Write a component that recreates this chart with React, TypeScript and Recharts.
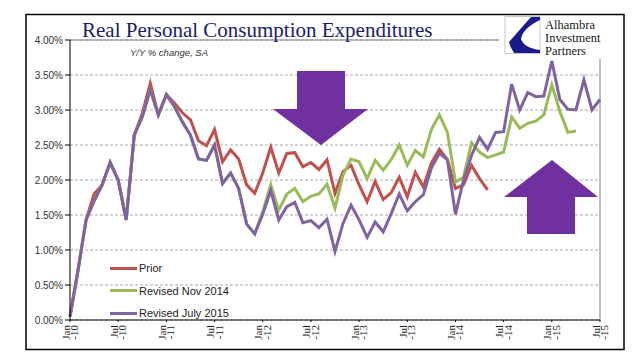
import React from 'react';
import { LineChart, Line, XAxis, YAxis, CartesianGrid, Legend, ReferenceLine } from 'recharts';

const months = [
  'Jan-10', 'Feb-10', 'Mar-10', 'Apr-10', 'May-10', 'Jun-10', 'Jul-10', 'Aug-10', 'Sep-10', 'Oct-10', 'Nov-10', 'Dec-10',
  'Jan-11', 'Feb-11', 'Mar-11', 'Apr-11', 'May-11', 'Jun-11', 'Jul-11', 'Aug-11', 'Sep-11', 'Oct-11', 'Nov-11', 'Dec-11',
  'Jan-12', 'Feb-12', 'Mar-12', 'Apr-12', 'May-12', 'Jun-12', 'Jul-12', 'Aug-12', 'Sep-12', 'Oct-12', 'Nov-12', 'Dec-12',
  'Jan-13', 'Feb-13', 'Mar-13', 'Apr-13', 'May-13', 'Jun-13', 'Jul-13', 'Aug-13', 'Sep-13', 'Oct-13', 'Nov-13', 'Dec-13',
  'Jan-14', 'Feb-14', 'Mar-14', 'Apr-14', 'May-14', 'Jun-14', 'Jul-14', 'Aug-14', 'Sep-14', 'Oct-14', 'Nov-14', 'Dec-14',
  'Jan-15', 'Feb-15', 'Mar-15', 'Apr-15', 'May-15', 'Jun-15', 'Jul-15',
];

const prior = [
  0.05, 0.71, 1.43, 1.8, 1.93, 2.25, 2.0, 1.43, 2.64, 2.95, 3.38, 2.93,
  3.22, 3.1, 2.96, 2.86, 2.56, 2.49, 2.72, 2.26, 2.43, 2.3, 1.93, 1.81,
  2.1, 2.47, 2.1, 2.38, 2.39, 2.19, 2.25, 2.15, 2.29, 1.81, 2.12, 2.21,
  1.93, 1.69, 1.98, 1.72, 1.82, 2.04, 1.76, 2.11, 1.9, 2.24, 2.44, 2.29,
  1.88, 1.93, 2.21, 2.02, 1.86,
];

const revisedNov2014 = [
  0.05, 0.71, 1.43, 1.7, 1.93, 2.25, 2.0, 1.43, 2.64, 2.9, 3.29, 2.93,
  3.22, 3.05, 2.83, 2.64, 2.3, 2.28, 2.5, 1.95, 2.1, 1.88, 1.37, 1.23,
  1.55, 1.93, 1.57, 1.8, 1.88, 1.69, 1.77, 1.8, 1.94, 1.6, 2.07, 2.3,
  2.26, 2.02, 2.28, 2.14, 2.29, 2.5, 2.21, 2.42, 2.33, 2.72, 2.93, 2.68,
  1.97, 2.04, 2.53, 2.4, 2.32, 2.36, 2.4, 2.9, 2.74, 2.81, 2.84, 2.93,
  3.36, 2.98, 2.68, 2.7,
];

const revisedJuly2015 = [
  0.05, 0.71, 1.43, 1.7, 1.93, 2.25, 2.0, 1.43, 2.64, 2.9, 3.29, 2.93,
  3.22, 3.05, 2.83, 2.64, 2.3, 2.28, 2.5, 1.95, 2.1, 1.88, 1.37, 1.23,
  1.51, 1.85, 1.43, 1.62, 1.68, 1.39, 1.42, 1.32, 1.44, 0.98, 1.38, 1.64,
  1.43, 1.18, 1.4, 1.26, 1.52, 1.8, 1.56, 1.69, 1.79, 2.17, 2.38, 2.29,
  1.51, 2.0, 2.35, 2.61, 2.44, 2.68, 2.69, 3.37, 3.0, 3.25, 3.19, 3.2,
  3.7, 3.15, 3.01, 3.0, 3.43, 3.0, 3.15,
];

const seriesNames = ['Prior', 'Revised Nov 2014', 'Revised July 2015'];
const yTicks = [0, 0.5, 1, 1.5, 2, 2.5, 3, 3.5, 4];

const data = months.map((m, i) => ({
  m,
  prior: prior[i] ?? null,
  nov: revisedNov2014[i] ?? null,
  jul: revisedJuly2015[i] ?? null,
}));

const XTick = (props: any) => {
  const { x, y, payload } = props;
  const [mon, yr] = String(payload.value).split('-');
  return (
    <g transform={`translate(${x},${y + 1}) rotate(-90)`}>
      <text textAnchor="end" fontFamily="Liberation Serif" fontSize={11} fill="#222">
        <tspan x={0} y={-0.5}>{mon}</tspan>
        <tspan x={0} y={8}>-{yr}</tspan>
      </text>
    </g>
  );
};

const renderLegend = (props: any) => {
  const entries = [...(props.payload || [])].sort(
    (a: any, b: any) => seriesNames.indexOf(a.value) - seriesNames.indexOf(b.value)
  );
  return (
    <div>
      {entries.map((entry: any) => (
        <div key={entry.value} style={{ display: 'flex', alignItems: 'center', height: 22.5 }}>
          <span style={{ display: 'inline-block', width: 27, height: 3, background: entry.color }} />
          <span style={{ marginLeft: 2, fontSize: 11, fontFamily: 'Liberation Sans', color: '#222' }}>{entry.value}</span>
        </div>
      ))}
    </div>
  );
};

export default function App() {
  return (
    <div style={{ position: 'absolute', left: 0, top: 0, width: 641, height: 358, background: '#fff', overflow: 'hidden' }}>
      <LineChart width={641} height={358} data={data} margin={{ top: 40, right: 41, bottom: 8, left: 20 }}>
        <CartesianGrid vertical={false} stroke="#a9a9a9" strokeDasharray="3 2" />
        <XAxis
          dataKey="m"
          interval={5}
          height={30}
          tick={<XTick />}
          tickSize={2}
          tickLine={{ stroke: '#000' }}
          axisLine={{ stroke: '#000' }}
        />
        <YAxis
          width={50}
          domain={[0, 4]}
          ticks={yTicks}
          tickFormatter={(v: number) => v.toFixed(2) + '%'}
          tick={{ fontSize: 10, fill: '#333', fontFamily: 'Liberation Sans' }}
          tickSize={5}
          tickLine={{ stroke: '#000' }}
          axisLine={{ stroke: '#000' }}
        />
        <ReferenceLine y={4} stroke="#808080" />
        <ReferenceLine x="Jul-15" stroke="#808080" />
        <Legend
          layout="vertical"
          align="center"
          verticalAlign="middle"
          content={renderLegend}
          wrapperStyle={{ left: 110, top: 257, width: 140, height: 70 }}
        />
        <Line name={seriesNames[0]} dataKey="prior" stroke="#c0504d" strokeWidth={3} dot={false} isAnimationActive={false} />
        <Line name={seriesNames[1]} dataKey="nov" stroke="#9bbb59" strokeWidth={3} dot={false} isAnimationActive={false} />
        <Line name={seriesNames[2]} dataKey="jul" stroke="#8064a2" strokeWidth={3} dot={false} isAnimationActive={false} />
      </LineChart>
      <svg width={641} height={358} style={{ position: 'absolute', left: 0, top: 0, pointerEvents: 'none' }}>
        <rect x={26} y={14.5} width={598} height={335} fill="none" stroke="#000" strokeWidth={1.5} />
        <text x={82} y={37} fontFamily="Liberation Serif" fontSize={21} fill="#1c1c6e">
          Real Personal Consumption Expenditures
        </text>
        <text x={130} y={56} fontFamily="Liberation Sans" fontStyle="italic" fontSize={9.5} fill="#333">
          Y/Y % change, SA
        </text>
        {/* arrows */}
        <polygon points="297,71 345,71 345,109 368,109 321,145 273,109 297,109" fill="#7030a0" />
        <polygon points="552,160 598,197 575,197 575,234 527,234 527,197 504,197" fill="#7030a0" />
        {/* logo */}
        <rect x={499} y={16} width={122} height={43} fill="#fff" />
        <rect x={505} y={16.5} width={35} height={37} fill="#fff" stroke="#c8c8c8" />
        <path d="M531 17 L540 17 L540 20 Q523 28 521 39 Q524 48 540 50 L540 53 L514 53 Q510 47 509 42 Z" fill="#1a1a8a" />
        <text fontFamily="Liberation Serif" fontSize={12.5} fill="#1a1a1a">
          <tspan x={545} y={29}>Alhambra</tspan>
          <tspan x={545} y={42}>Investment</tspan>
          <tspan x={545} y={55}>Partners</tspan>
        </text>
      </svg>
    </div>
  );
}
